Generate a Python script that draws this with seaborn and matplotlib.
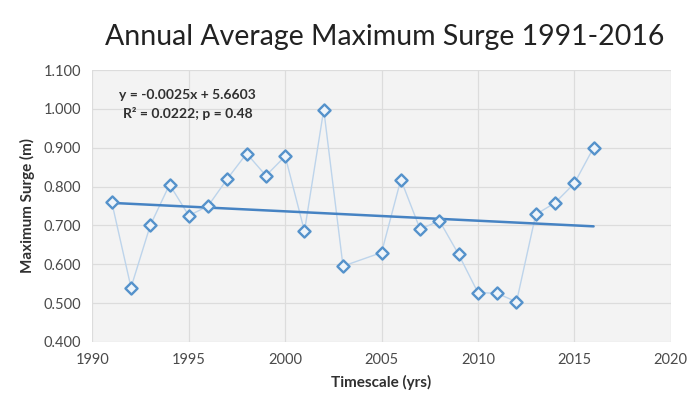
import numpy as np
import pandas as pd
import matplotlib
matplotlib.use("Agg")
import matplotlib.pyplot as plt
import seaborn as sns
from matplotlib.ticker import FormatStrFormatter, MultipleLocator

years = [1991, 1992, 1993, 1994, 1995, 1996, 1997, 1998, 1999, 2000, 2001, 2002, 2003,
         2005, 2006, 2007, 2008, 2009, 2010, 2011, 2012, 2013, 2014, 2015, 2016]
surge = [0.760, 0.540, 0.700, 0.805, 0.725, 0.750, 0.820, 0.885, 0.828, 0.878, 0.685, 0.998, 0.595,
         0.630, 0.818, 0.690, 0.712, 0.625, 0.527, 0.525, 0.503, 0.728, 0.758, 0.808, 0.900]
title = "Annual Average Maximum Surge 1991-2016"
eq_text = "y = -0.0025x + 5.6603\nR² = 0.0222; p = 0.48"

df = pd.DataFrame({"year": years, "surge": surge})

sns.set_theme(style="white")
plt.rcParams['font.family'] = ['Lato', 'DejaVu Sans']

fig = plt.figure(figsize=(6.9, 4.07), dpi=100)
ax = fig.add_axes([0.134, 0.160, 0.838, 0.668])
ax.set_facecolor('#f3f3f3')

sns.lineplot(data=df, x="year", y="surge", ax=ax, color='#bdd4eb', lw=1.0, zorder=2)
sns.regplot(data=df, x="year", y="surge", ax=ax, ci=None, scatter=False,
            line_kws=dict(color='#4683c3', lw=1.8, zorder=3), truncate=True)
sns.scatterplot(data=df, x="year", y="surge", ax=ax, marker='D', s=38,
                facecolor='#eef4fa', edgecolor='#5592cb', linewidth=1.7, zorder=4)

ax.set_xlim(1990, 2020)
ax.set_ylim(0.4, 1.1)
ax.xaxis.set_major_locator(MultipleLocator(5))
ax.yaxis.set_major_locator(MultipleLocator(0.1))
ax.yaxis.set_major_formatter(FormatStrFormatter('%.3f'))
ax.grid(True, color='#dcdcdc', lw=0.9)
ax.set_axisbelow(True)
for s in ax.spines.values():
    s.set_visible(False)
ax.tick_params(axis='both', labelsize=10.5, colors='#4a4a4a', length=0, pad=8)

ax.set_xlabel("Timescale (yrs)", fontsize=11, fontweight='bold', color='#303030', labelpad=6)
ax.set_ylabel("Maximum Surge (m)", fontsize=11, fontweight='bold', color='#303030', labelpad=6)

ax.text(0.165, 0.93, eq_text, transform=ax.transAxes, ha='center', va='top',
        fontsize=10, fontweight='bold', color='#303030', linespacing=1.5)

fig.text(0.557, 0.909, title, ha='center', va='center', fontsize=20.5, color='#222222')

fig.savefig("out.png", dpi=100)
